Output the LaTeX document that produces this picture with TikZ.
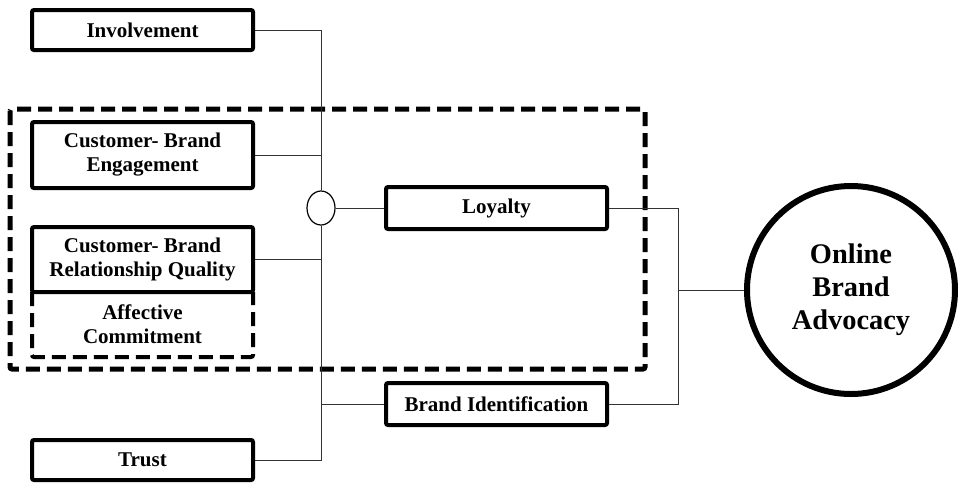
\documentclass[tikz,border=0pt]{standalone}
\usepackage{fontspec}
\setmainfont{Liberation Serif}
\usetikzlibrary{calc,shapes.geometric}

\begin{document}
\begin{tikzpicture}[x=0.5pt,y=-0.5pt,
	factor/.style={draw,line width=2pt,rounded corners=1pt,minimum width=110.5pt,align=center,font=\bfseries\fontsize{10.5}{12}\selectfont,inner sep=0pt},
	conn/.style={line width=0.5pt,draw=black!80}]
	\useasboundingbox (0,0) rectangle (958,483);
	
	% Outer dashed frame
	\draw[line width=2.5pt,dash pattern=on 7pt off 3.5pt,rounded corners=1pt] (10,109) rectangle (645,369);
	
	% Left column
	\node[factor,minimum height=20pt]   (inv)   at (142.5,30)    {Involvement};
	\node[factor,minimum height=33pt]   (cbe)   at (142.5,155)   {Customer- Brand\\Engagement};
	\node[factor,minimum height=32.5pt] (cbrq)  at (142.5,259.5) {Customer- Brand\\Relationship Quality};
	\node[factor,minimum height=32.5pt,draw=none,outer sep=0pt] (aff) at (142.5,324.5) {Affective\\Commitment};
	\draw[line width=2pt,dash pattern=on 7pt off 3.5pt,rounded corners=1pt] (aff.north west) -- (aff.south west) -- (aff.south east) -- (aff.north east);
	\node[factor,minimum height=20pt]   (trust) at (142.5,460)   {Trust};
	
	% Middle column
	\node[ellipse,draw,line width=0.6pt,minimum width=14pt,minimum height=17pt,inner sep=0pt] (join) at (321,208) {};
	\node[factor,minimum height=21pt]   (loy)   at (496.5,208)   {Loyalty};
	\node[factor,minimum height=21pt]   (bid)   at (496.5,404)   {Brand Identification};
	
	% Outcome
	\node[circle,draw,line width=3pt,minimum size=104pt,align=center,inner sep=0pt,
		font=\bfseries\fontsize{14.2}{16.5}\selectfont] (oba) at (851,290) {Online\\Brand\\Advocacy};
	\coordinate (split) at (678,290);
	
	% Antecedents into the join
	\draw[conn] (inv.east) -| (join.north);
	\draw[conn] (cbe.east) -- (cbe.east -| join.north);
	\draw[conn] (cbrq.east) -- (cbrq.east -| join.south);
	\draw[conn] (trust.east) -| (join.south);
	\draw[conn] (bid.west) -- (bid.west -| join.south);
	\draw[conn] (join.east) -- (loy.west);
	
	% Mediators into advocacy
	\draw[conn] (loy.east) -| (split);
	\draw[conn] (bid.east) -| (split);
	\draw[conn] (split) -- (oba.west);
	
\end{tikzpicture}
\end{document}
